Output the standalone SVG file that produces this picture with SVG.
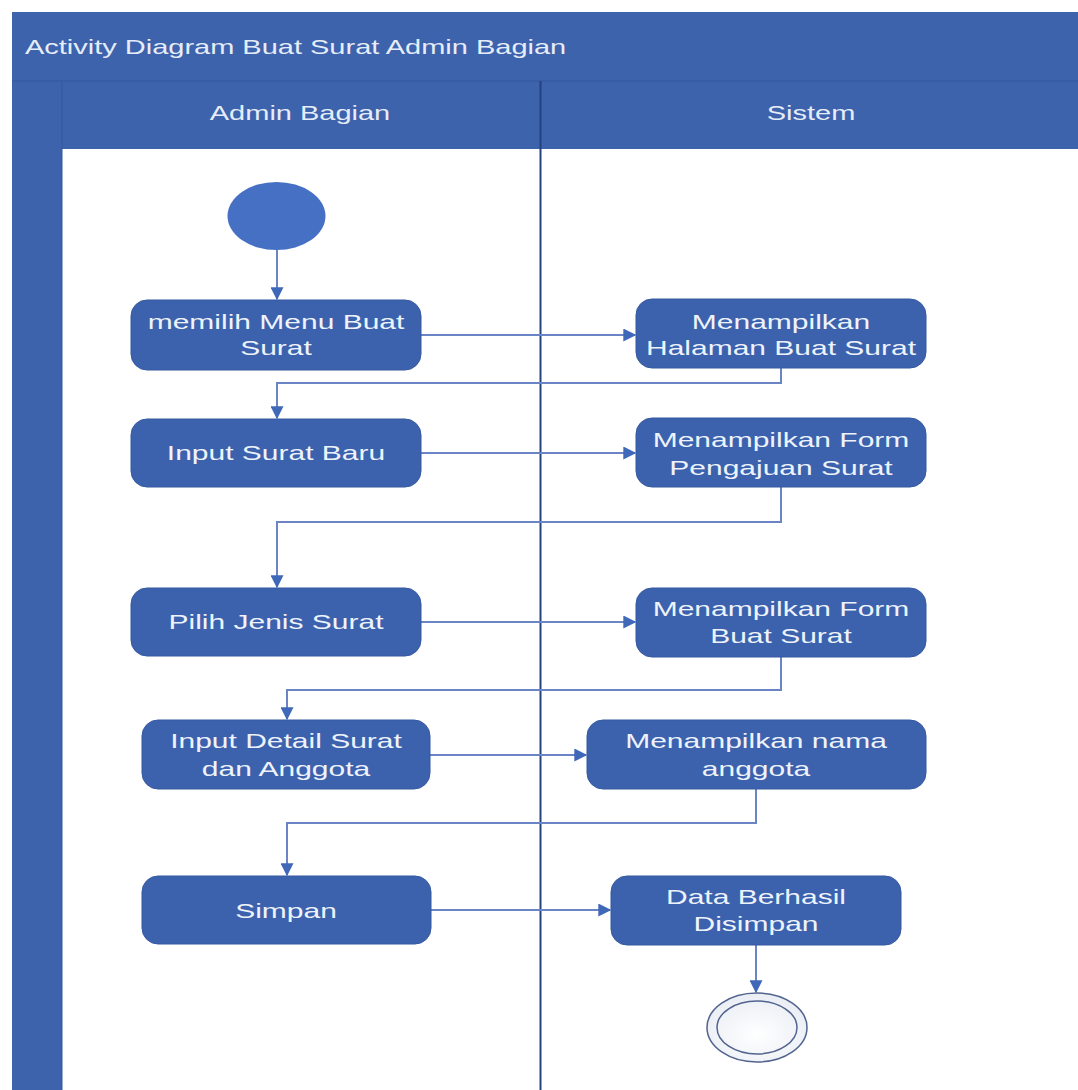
<svg xmlns="http://www.w3.org/2000/svg" width="1078" height="1090" viewBox="0 0 1078 1090">
  <defs>
    <style>
      .band { fill: #3d63ad; }
      .act { fill: #3c62ae; stroke: #35599f; stroke-width: 1; }
      .lbl { font-family: "Liberation Sans", "DejaVu Sans", sans-serif; font-size: 20px; fill: #eef3fb; text-anchor: middle; }
      .hdr { font-family: "Liberation Sans", "DejaVu Sans", sans-serif; font-size: 20px; fill: #e6edf8; }
      .flow { fill: none; stroke: #6b84c6; stroke-width: 2; marker-end: url(#arrow); }
    </style>
    <marker id="arrow" viewBox="0 0 10 10" refX="9" refY="5" markerWidth="15" markerHeight="13" markerUnits="userSpaceOnUse" orient="auto">
      <path d="M0,0 L10,5 L0,10 Z" fill="#4068b9"/>
    </marker>
    <radialGradient id="endFill" cx="0.5" cy="0.6" r="0.6">
      <stop offset="0" stop-color="#ffffff"/>
      <stop offset="1" stop-color="#e9edf4"/>
    </radialGradient>
  </defs>

  <rect width="1078" height="1090" fill="#ffffff"/>

  <!-- swimlane frame -->
  <g id="frame">
    <rect class="band" x="12" y="12" width="1066" height="69"/>
    <rect class="band" x="12" y="81" width="50" height="1009"/>
    <rect class="band" x="62" y="81" width="1016" height="68"/>
    <line x1="12" y1="81" x2="1078" y2="81" stroke="#3558a0" stroke-width="1"/>
    <line x1="62" y1="81" x2="62" y2="1090" stroke="#3558a0" stroke-width="1"/>
    <line x1="540.5" y1="81" x2="540.5" y2="1090" stroke="#23427f" stroke-width="2"/>
    <text class="hdr" transform="translate(25 54) scale(1.45 1)">Activity Diagram Buat Surat Admin Bagian</text>
    <text class="hdr" transform="translate(300 120) scale(1.45 1)" text-anchor="middle">Admin Bagian</text>
    <text class="hdr" transform="translate(811 120) scale(1.45 1)" text-anchor="middle">Sistem</text>
  </g>

  <!-- control flows -->
  <g id="connectors">
    <path class="flow" d="M277,250 L277,299"/>
    <path class="flow" d="M421,335 L635,335"/>
    <path class="flow" d="M781,368 L781,383 L277,383 L277,418"/>
    <path class="flow" d="M421,453 L635,453"/>
    <path class="flow" d="M781,487 L781,522 L277,522 L277,587"/>
    <path class="flow" d="M421,622 L635,622"/>
    <path class="flow" d="M781,657 L781,690 L287,690 L287,719"/>
    <path class="flow" d="M430,755 L586,755"/>
    <path class="flow" d="M756,789 L756,823 L287,823 L287,875"/>
    <path class="flow" d="M431,910 L610,910"/>
    <path class="flow" d="M756,945 L756,992"/>
  </g>

  <g id="start">
    <ellipse cx="276.5" cy="216" rx="49" ry="34" fill="#4570c4"/>
  </g>

  <g id="memilih-menu">
    <rect class="act" x="131" y="300" width="290" height="70" rx="16"/>
    <text class="lbl" transform="translate(276 329) scale(1.5 1)">memilih Menu Buat</text>
    <text class="lbl" transform="translate(276 355) scale(1.5 1)">Surat</text>
  </g>

  <g id="halaman-buat-surat">
    <rect class="act" x="636" y="299" width="290" height="69" rx="16"/>
    <text class="lbl" transform="translate(781 329) scale(1.5 1)">Menampilkan</text>
    <text class="lbl" transform="translate(781 355) scale(1.5 1)">Halaman Buat Surat</text>
  </g>

  <g id="input-surat-baru">
    <rect class="act" x="131" y="419" width="290" height="68" rx="16"/>
    <text class="lbl" transform="translate(276 460) scale(1.5 1)">Input Surat Baru</text>
  </g>

  <g id="form-pengajuan">
    <rect class="act" x="636" y="418" width="290" height="69" rx="16"/>
    <text class="lbl" transform="translate(781 447) scale(1.5 1)">Menampilkan Form</text>
    <text class="lbl" transform="translate(781 475) scale(1.5 1)">Pengajuan Surat</text>
  </g>

  <g id="pilih-jenis">
    <rect class="act" x="131" y="588" width="290" height="68" rx="16"/>
    <text class="lbl" transform="translate(276 629) scale(1.5 1)">Pilih Jenis Surat</text>
  </g>

  <g id="form-buat-surat">
    <rect class="act" x="636" y="588" width="290" height="69" rx="16"/>
    <text class="lbl" transform="translate(781 616) scale(1.5 1)">Menampilkan Form</text>
    <text class="lbl" transform="translate(781 643) scale(1.5 1)">Buat Surat</text>
  </g>

  <g id="input-detail">
    <rect class="act" x="142" y="720" width="288" height="69" rx="16"/>
    <text class="lbl" transform="translate(286 748) scale(1.5 1)">Input Detail Surat</text>
    <text class="lbl" transform="translate(286 776) scale(1.5 1)">dan Anggota</text>
  </g>

  <g id="nama-anggota">
    <rect class="act" x="587" y="720" width="339" height="69" rx="16"/>
    <text class="lbl" transform="translate(756 748) scale(1.5 1)">Menampilkan nama</text>
    <text class="lbl" transform="translate(756 776) scale(1.5 1)">anggota</text>
  </g>

  <g id="simpan">
    <rect class="act" x="142" y="876" width="289" height="68" rx="16"/>
    <text class="lbl" transform="translate(286 918) scale(1.5 1)">Simpan</text>
  </g>

  <g id="data-berhasil">
    <rect class="act" x="611" y="876" width="290" height="69" rx="16"/>
    <text class="lbl" transform="translate(756 904) scale(1.5 1)">Data Berhasil</text>
    <text class="lbl" transform="translate(756 931) scale(1.5 1)">Disimpan</text>
  </g>

  <g id="end">
    <ellipse cx="757" cy="1027.5" rx="50" ry="34.5" fill="url(#endFill)" stroke="#52648f" stroke-width="1.5"/>
    <ellipse cx="757" cy="1027.5" rx="40" ry="26.5" fill="none" stroke="#52648f" stroke-width="1.5"/>
  </g>
</svg>
